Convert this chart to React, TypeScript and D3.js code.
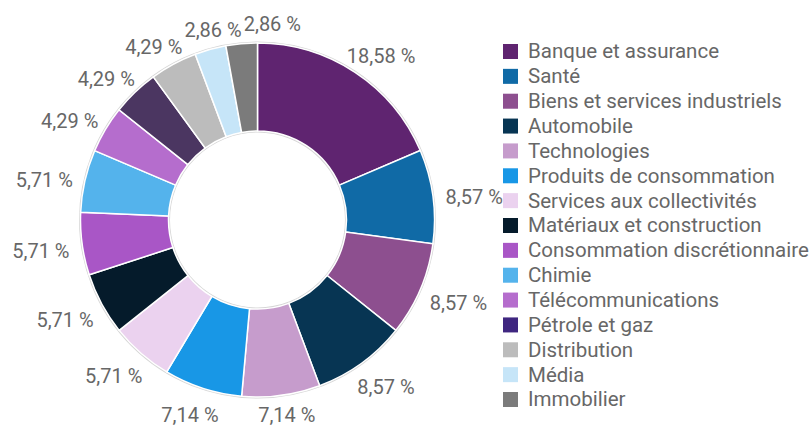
import React, { useMemo } from 'react';
import * as d3 from 'd3';

const categories = [
  'Banque et assurance',
  'Santé',
  'Biens et services industriels',
  'Automobile',
  'Technologies',
  'Produits de consommation',
  'Services aux collectivités',
  'Matériaux et construction',
  'Consommation discrétionnaire',
  'Chimie',
  'Télécommunications',
  'Pétrole et gaz',
  'Distribution',
  'Média',
  'Immobilier',
];

const values = [18.58, 8.57, 8.57, 8.57, 7.14, 7.14, 5.71, 5.71, 5.71, 5.71, 4.29, 4.29, 4.29, 2.86, 2.86];

const sliceColors = [
  '#5f2470', '#106aa6', '#8d4f8f', '#073553', '#c69ccc',
  '#1897e6', '#ebd2ef', '#051b2b', '#a956c6', '#54b3ec',
  '#b56dcd', '#4b3661', '#bcbcbc', '#c6e5f8', '#7b7b7b',
];

const legendColors = [
  '#5f2470', '#106aa6', '#8d4f8f', '#073553', '#c69ccc',
  '#1897e6', '#ebd2ef', '#051b2b', '#a956c6', '#54b3ec',
  '#b56dcd', '#3f2680', '#bcbcbc', '#c6e5f8', '#7b7b7b',
];

const fmt = (v: number) => v.toFixed(2).replace('.', ',') + ' %';

const W = 811;
const H = 425;
const CX = 257.5;
const CY = 220;
const R_OUT = 177;
const R_IN = 89;
const LABEL_R = 190;
const LABEL_FONT = 20;
const LEGEND_FONT = 20.5;
const FONT = 'Roboto, "Noto Sans", sans-serif';
const TEXT_COLOR = '#676767';

function measure(text: string, size: number) {
  const c = document.createElement('canvas');
  const ctx = c.getContext('2d');
  if (!ctx) return text.length * size * 0.5;
  ctx.font = `${size}px Roboto`;
  return ctx.measureText(text).width;
}

export default function App() {
  const pie = d3.pie<number>().sort(null).value((d) => d).startAngle(0).endAngle(2 * Math.PI);
  const arcs = pie(values);
  const arc = d3.arc<d3.PieArcDatum<number>>().innerRadius(R_IN).outerRadius(R_OUT);

  const labels = useMemo(() => {
    const h = 22;
    const maxY = H - CY - 10;
    const placed: { x: number; y: number; w: number; h: number; text: string }[] = [];
    arcs.forEach((a) => {
      const text = fmt(a.data);
      const w = measure(text, LABEL_FONT);
      const mid = (a.startAngle + a.endAngle) / 2;
      const vx = Math.sin(mid);
      const vy = -Math.cos(mid);
      let x = LABEL_R * vx + (vx * w) / 2;
      const y = Math.min(maxY, LABEL_R * vy + (vy * h) / 2 + 4);
      for (const p of placed) {
        const overlapX = Math.abs(x - p.x) < (w + p.w) / 2 + 2;
        const overlapY = Math.abs(y - p.y) < (h + p.h) / 2 - 2;
        if (overlapX && overlapY) {
          if (x >= p.x) x = p.x + p.w / 2 + 2 + w / 2;
          else x = p.x - p.w / 2 - 2 - w / 2;
        }
      }
      placed.push({ x, y, w, h, text });
    });
    return placed;
  }, []);

  const legendY = d3.scalePoint<string>().domain(categories).range([51, 399]);

  return (
    <svg
      width={W}
      height={H}
      style={{ position: 'absolute', left: 0, top: 0, background: '#fff' }}
      fontFamily={FONT}
    >
      <g transform={`translate(${CX},${CY})`}>
        <path
          d={d3.arc()({ innerRadius: R_IN, outerRadius: R_OUT, startAngle: 0, endAngle: 2 * Math.PI }) || ''}
          fill="none"
          stroke="#d6d6d6"
          strokeWidth={3}
        />
        {arcs.map((a, i) => (
          <path key={i} d={arc(a) || ''} fill={sliceColors[i]} stroke="#ffffff" strokeWidth={1.5} />
        ))}
        {labels.map((l, i) => (
          <text
            key={i}
            x={l.x}
            y={l.y}
            dy="0.36em"
            textAnchor="middle"
            fontSize={LABEL_FONT}
            fill={TEXT_COLOR}
          >
            {l.text}
          </text>
        ))}
      </g>
      <g>
        {categories.map((c, i) => (
          <g key={c} transform={`translate(503,${legendY(c)})`}>
            <rect x={0} y={-7} width={15} height={15} fill={legendColors[i]} />
            <text x={25} y={0} dy="0.36em" fontSize={LEGEND_FONT} fill={TEXT_COLOR}>
              {c}
            </text>
          </g>
        ))}
      </g>
    </svg>
  );
}
